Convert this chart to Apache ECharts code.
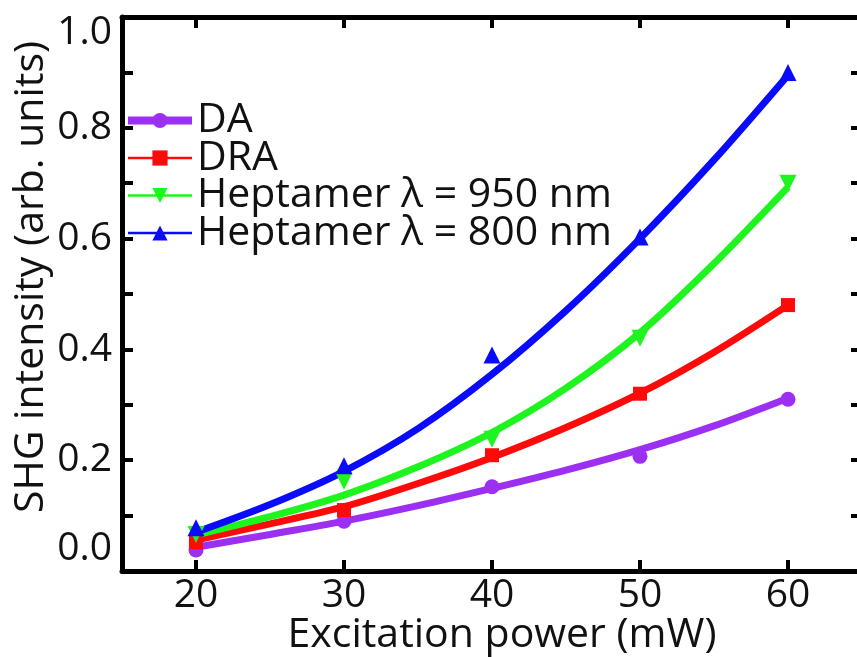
<!DOCTYPE html>
<html>
<head>
<meta charset="utf-8">
<script src="https://cdn.jsdelivr.net/npm/echarts@6/dist/echarts.min.js"></script>
<style>
html,body{margin:0;padding:0;background:#fff;}
#chart{width:857px;height:657px;}
</style>
</head>
<body>
<div id="chart"></div>
<script>
// measured data points (markers)
const xData = [20, 30, 40, 50, 60];
const daData = [0.038, 0.090, 0.152, 0.207, 0.310];
const draData = [0.052, 0.110, 0.209, 0.320, 0.480];
const hep950Data = [0.066, 0.162, 0.238, 0.420, 0.700];
const hep800Data = [0.078, 0.190, 0.390, 0.603, 0.900];

// fitted curves
const xFit = [20, 25, 30, 35, 40, 45, 50, 55, 60];
const daFit = [0.043, 0.066, 0.090, 0.118, 0.149, 0.182, 0.219, 0.262, 0.312];
const draFit = [0.056, 0.085, 0.116, 0.158, 0.205, 0.259, 0.321, 0.395, 0.480];
const hep950Fit = [0.065, 0.098, 0.137, 0.188, 0.250, 0.330, 0.430, 0.555, 0.693];
const hep800Fit = [0.070, 0.120, 0.180, 0.257, 0.355, 0.470, 0.600, 0.742, 0.895];

const seriesNames = ['DA', 'DRA', 'Heptamer \u03BB = 950 nm', 'Heptamer \u03BB = 800 nm'];
const xTicks = [20, 30, 40, 50, 60];
const yLabels = [0, 0.2, 0.4, 0.6, 0.8, 1.0];

const colors = ['#9b2ff2', '#ff0a0a', '#1ef51e', '#0a0aff'];
const downTri = 'path://M0,0L20,0L10,17.3Z';
const symbols = ['circle', 'rect', downTri, 'triangle'];
const symSizes = [15, 14, 17, 17];
const FONT = 'Open Sans';

const pair = (xs, ys) => xs.map((x, i) => [x, ys[i]]);
const fits = [daFit, draFit, hep950Fit, hep800Fit];
const datas = [daData, draData, hep950Data, hep800Data];

const series = [];
fits.forEach((f, i) => {
  series.push({
    name: seriesNames[i], type: 'line', data: pair(xFit, f),
    smooth: 0.3, showSymbol: false, symbol: symbols[i], symbolSize: symSizes[i],
    lineStyle: {color: colors[i], width: 7}, itemStyle: {color: colors[i]},
    z: 2, animation: false
  });
});
datas.forEach((d, i) => {
  series.push({
    name: seriesNames[i] + ' data', type: 'scatter', data: pair(xData, d),
    symbol: symbols[i], symbolSize: symSizes[i],
    itemStyle: {color: colors[i], opacity: 1}, z: 3, animation: false
  });
});

const axisLineStyle = {color: '#000', width: 5};
const tickStyle = {color: '#000', width: 4};

const option = {
  backgroundColor: '#fff',
  animation: false,
  grid: {left: 122, top: 17, width: 740, height: 554, containLabel: false, outerBoundsMode: 'none'},
  legend: {
    orient: 'vertical', left: 124, top: 100, padding: 0,
    itemWidth: 64, itemHeight: 19, itemGap: -3.5,
    textStyle: {fontFamily: FONT, fontSize: 41, color: '#111'},
    data: seriesNames.map((n, i) => ({name: n, lineStyle: {width: i === 0 ? 8 : 2.5}}))
  },
  xAxis: [{
    type: 'value', position: 'bottom', min: 15, max: 65,
    axisLine: {show: true, onZero: false, lineStyle: axisLineStyle},
    axisTick: {show: true, inside: true, length: 11, lineStyle: tickStyle, customValues: xTicks},
    axisLabel: {customValues: xTicks, fontFamily: FONT, fontSize: 39, color: '#111', margin: 5},
    splitLine: {show: false},
    name: 'Excitation power (mW)', nameLocation: 'middle', nameGap: 44, nameMoveOverlap: false,
    nameTextStyle: {fontFamily: FONT, fontSize: 41, color: '#111', padding: [0, 0, 0, 20]}
  }, {
    type: 'value', position: 'top', min: 15, max: 65,
    axisLine: {show: true, onZero: false, lineStyle: axisLineStyle},
    axisTick: {show: true, inside: true, length: 11, lineStyle: tickStyle, customValues: xTicks},
    axisLabel: {show: false}, splitLine: {show: false}
  }],
  yAxis: [{
    type: 'value', position: 'left', min: 0, max: 1, interval: 0.1,
    axisLine: {show: true, onZero: false, lineStyle: axisLineStyle},
    axisTick: {show: true, inside: true, length: 11, lineStyle: tickStyle},
    axisLabel: {
      customValues: yLabels, fontFamily: FONT, fontSize: 39, color: '#111', margin: 10,
      formatter: v => {
        const s = v.toFixed(1);
        if (v === 0) return '{lo|' + s + '}';
        if (v === 1) return '{hi|' + s + '}';
        return s;
      },
      rich: {
        lo: {fontFamily: FONT, fontSize: 39, color: '#111', padding: [0, 0, 44, 0]},
        hi: {fontFamily: FONT, fontSize: 39, color: '#111', padding: [32, 0, 0, 0]}
      }
    },
    splitLine: {show: false},
    name: 'SHG intensity (arb. units)', nameLocation: 'middle', nameGap: 70, nameMoveOverlap: false,
    nameTextStyle: {fontFamily: FONT, fontSize: 41, color: '#111', padding: [0, 0, 0, 34]}
  }, {
    type: 'value', position: 'right', min: 0, max: 1, interval: 0.1,
    axisLine: {show: true, onZero: false, lineStyle: axisLineStyle},
    axisTick: {show: true, inside: true, length: 11, lineStyle: tickStyle},
    axisLabel: {show: false}, splitLine: {show: false}
  }],
  series: series
};

const chart = echarts.init(document.getElementById('chart'), null, {renderer: 'canvas'});
chart.setOption(option);
</script>
</body>
</html>
